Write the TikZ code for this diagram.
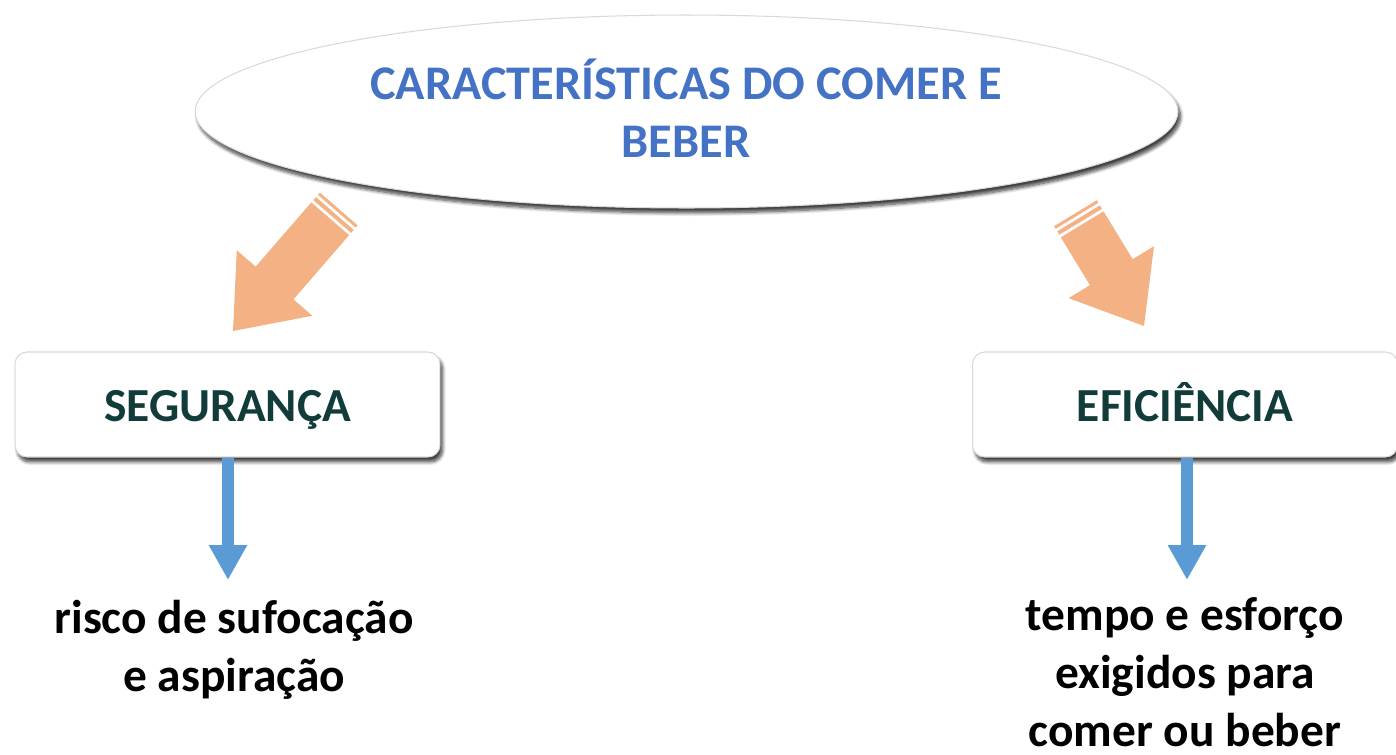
\documentclass[tikz,border=0pt]{standalone}
\usepackage{fontspec}
\setmainfont{Carlito}
\usetikzlibrary{shapes.geometric,arrows.meta,shadows.blur}
\definecolor{titleblue}{HTML}{4472C4}
\definecolor{boxtext}{HTML}{113C3A}
\definecolor{orangearr}{HTML}{F4B183}
\definecolor{bluearr}{HTML}{5B9BD5}
\begin{document}
\begin{tikzpicture}[x=0.02cm,y=-0.02cm,
  bevel/.style={fill=white, draw=gray!30, line width=0.6pt,
    blur shadow={shadow xshift=1.5pt, shadow yshift=-2.8pt, shadow blur steps=8, shadow opacity=75}},
  topic/.style={ellipse, bevel, minimum width=19.66cm, minimum height=3.86cm, inner sep=0pt},
  topictext/.style={align=center, text=titleblue, inner sep=0pt, font=\bfseries\fontsize{27.5}{33}\selectfont},
  catbox/.style={rectangle, rounded corners=0.24cm, bevel, minimum width=8.5cm, minimum height=2.1cm,
    text height=24pt, text depth=4.2pt,
    text=boxtext, font=\bfseries\fontsize{27}{33}\selectfont},
  desc/.style={align=center, font=\bfseries\fontsize{27}{33}\selectfont, inner sep=0pt},
  downarrow/.style={draw=bluearr, line width=0.24cm, -{Triangle[width=0.72cm,length=0.7cm]}},
  blockarrow/.style={fill=orangearr, draw=none}
]
\useasboundingbox (0,0) rectangle (1396,754);

\node[topic] (title) at (686.5,111.5) {};
\node[topictext] (titletext) at (686,108.5) {CARACTERÍSTICAS DO COMER E\\BEBER};
\node[catbox] (seg) at (227.5,404.5) {SEGURANÇA};
\node[catbox] (efi) at (1185,404.5) {EFICIÊNCIA};
\node[desc] (risco) at (234,650) {risco de sufocação\\e aspiração};
\node[desc] (tempo) at (1185,672) {tempo e esforço\\exigidos para\\comer ou beber};

% orange block arrows (title -> boxes)
\coordinate (segin) at (233,331);
\coordinate (efiin) at (1144,326);
\begin{scope}[shift={(segin)}, rotate=49.1]
  \fill[blockarrow] (0,0) -- (63.5,50) -- (63.5,25) -- (148.5,25) -- (148.5,-25) -- (63.5,-25) -- (63.5,-50) -- cycle;
  \fill[blockarrow] (151.5,-25) rectangle (155.5,25);
  \fill[blockarrow] (158.5,-25) rectangle (161.5,25);
\end{scope}
\begin{scope}[shift={(efiin)}, rotate=121.3]
  \fill[blockarrow] (0,0) -- (63,50) -- (63,25) -- (119,25) -- (119,-25) -- (63,-25) -- (63,-50) -- cycle;
  \fill[blockarrow] (122,-25) rectangle (126,25);
  \fill[blockarrow] (129,-25) rectangle (132,25);
\end{scope}

% blue arrows (boxes -> descriptions)
\coordinate (segtip) at (228,580);
\coordinate (efitip) at (1187,580);
\draw[downarrow] (seg.south -| segtip) -- (segtip);
\draw[downarrow] (efi.south -| efitip) -- (efitip);
\end{tikzpicture}
\end{document}
